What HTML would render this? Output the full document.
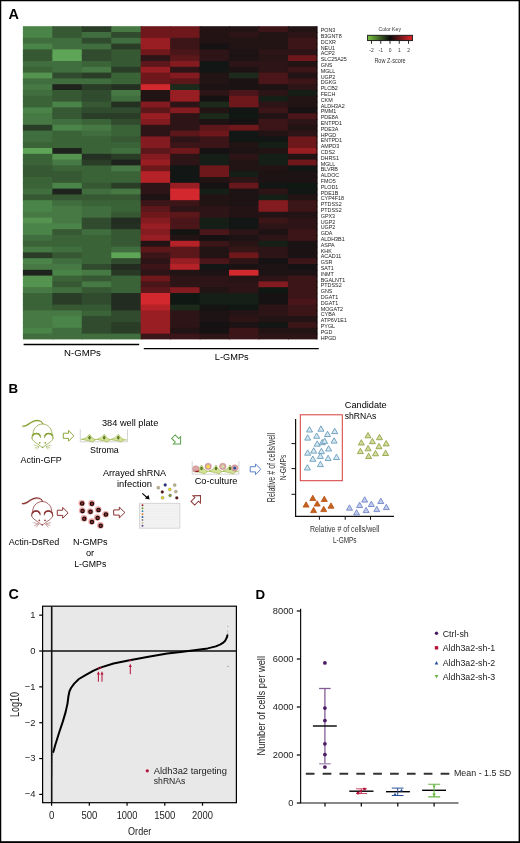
<!DOCTYPE html>
<html><head><meta charset="utf-8"><title>Figure</title>
<style>html,body{margin:0;padding:0;background:#fff;}body{width:520px;height:843px;overflow:hidden;font-family:"Liberation Sans",sans-serif;}svg{display:block;will-change:transform;}</style></head><body>
<svg width="520" height="843" viewBox="0 0 520 843" font-family="Liberation Sans, sans-serif">
<rect width="520" height="843" fill="#fff"/>
<text x="8.40" y="18.80" font-size="14.4" font-weight="bold" fill="#000">A</text>
<rect x="22.90" y="26.20" width="30.45" height="6.80" fill="#4b8448"/>
<rect x="22.90" y="32.00" width="30.45" height="6.80" fill="#4b8448"/>
<rect x="22.90" y="37.80" width="30.45" height="6.80" fill="#406e3e"/>
<rect x="22.90" y="43.60" width="30.45" height="6.80" fill="#4b8448"/>
<rect x="22.90" y="49.40" width="30.45" height="6.80" fill="#365833"/>
<rect x="22.90" y="55.20" width="30.45" height="6.80" fill="#365833"/>
<rect x="22.90" y="61.00" width="30.45" height="6.80" fill="#406e3e"/>
<rect x="22.90" y="66.80" width="30.45" height="6.80" fill="#3b6338"/>
<rect x="22.90" y="72.60" width="30.45" height="6.80" fill="#559450"/>
<rect x="22.90" y="78.40" width="30.45" height="6.80" fill="#406e3e"/>
<rect x="22.90" y="84.20" width="30.45" height="6.80" fill="#467943"/>
<rect x="22.90" y="90.00" width="30.45" height="6.80" fill="#406e3e"/>
<rect x="22.90" y="95.80" width="30.45" height="6.80" fill="#3b6338"/>
<rect x="22.90" y="101.60" width="30.45" height="6.80" fill="#3b6338"/>
<rect x="22.90" y="107.40" width="30.45" height="6.80" fill="#4b8448"/>
<rect x="22.90" y="113.20" width="30.45" height="6.80" fill="#467943"/>
<rect x="22.90" y="119.00" width="30.45" height="6.80" fill="#467943"/>
<rect x="22.90" y="124.80" width="30.45" height="6.80" fill="#2a3e27"/>
<rect x="22.90" y="130.60" width="30.45" height="6.80" fill="#406e3e"/>
<rect x="22.90" y="136.40" width="30.45" height="6.80" fill="#406e3e"/>
<rect x="22.90" y="142.20" width="30.45" height="6.80" fill="#3b6338"/>
<rect x="22.90" y="148.00" width="30.45" height="6.80" fill="#5fa558"/>
<rect x="22.90" y="153.80" width="30.45" height="6.80" fill="#3b6338"/>
<rect x="22.90" y="159.60" width="30.45" height="6.80" fill="#3b6338"/>
<rect x="22.90" y="165.40" width="30.45" height="6.80" fill="#365833"/>
<rect x="22.90" y="171.20" width="30.45" height="6.80" fill="#365833"/>
<rect x="22.90" y="177.00" width="30.45" height="6.80" fill="#3b6338"/>
<rect x="22.90" y="182.80" width="30.45" height="6.80" fill="#3b6338"/>
<rect x="22.90" y="188.60" width="30.45" height="6.80" fill="#406e3e"/>
<rect x="22.90" y="194.40" width="30.45" height="6.80" fill="#365833"/>
<rect x="22.90" y="200.20" width="30.45" height="6.80" fill="#4b8448"/>
<rect x="22.90" y="206.00" width="30.45" height="6.80" fill="#4b8448"/>
<rect x="22.90" y="211.80" width="30.45" height="6.80" fill="#467943"/>
<rect x="22.90" y="217.60" width="30.45" height="6.80" fill="#559450"/>
<rect x="22.90" y="223.40" width="30.45" height="6.80" fill="#4b8448"/>
<rect x="22.90" y="229.20" width="30.45" height="6.80" fill="#4b8448"/>
<rect x="22.90" y="235.00" width="30.45" height="6.80" fill="#406e3e"/>
<rect x="22.90" y="240.80" width="30.45" height="6.80" fill="#3b6338"/>
<rect x="22.90" y="246.60" width="30.45" height="6.80" fill="#467943"/>
<rect x="22.90" y="252.40" width="30.45" height="6.80" fill="#2a3e27"/>
<rect x="22.90" y="258.20" width="30.45" height="6.80" fill="#4b8448"/>
<rect x="22.90" y="264.00" width="30.45" height="6.80" fill="#467943"/>
<rect x="22.90" y="269.80" width="30.45" height="6.80" fill="#1e241d"/>
<rect x="22.90" y="275.60" width="30.45" height="6.80" fill="#559450"/>
<rect x="22.90" y="281.40" width="30.45" height="6.80" fill="#559450"/>
<rect x="22.90" y="287.20" width="30.45" height="6.80" fill="#467943"/>
<rect x="22.90" y="293.00" width="30.45" height="6.80" fill="#3b6338"/>
<rect x="22.90" y="298.80" width="30.45" height="6.80" fill="#3b6338"/>
<rect x="22.90" y="304.60" width="30.45" height="6.80" fill="#3b6338"/>
<rect x="22.90" y="310.40" width="30.45" height="6.80" fill="#467943"/>
<rect x="22.90" y="316.20" width="30.45" height="6.80" fill="#467943"/>
<rect x="22.90" y="322.00" width="30.45" height="6.80" fill="#467943"/>
<rect x="22.90" y="327.80" width="30.45" height="6.80" fill="#4b8448"/>
<rect x="22.90" y="333.60" width="30.45" height="5.80" fill="#406e3e"/>
<rect x="52.35" y="26.20" width="30.45" height="6.80" fill="#365833"/>
<rect x="52.35" y="32.00" width="30.45" height="6.80" fill="#365833"/>
<rect x="52.35" y="37.80" width="30.45" height="6.80" fill="#406e3e"/>
<rect x="52.35" y="43.60" width="30.45" height="6.80" fill="#406e3e"/>
<rect x="52.35" y="49.40" width="30.45" height="6.80" fill="#5fa558"/>
<rect x="52.35" y="55.20" width="30.45" height="6.80" fill="#5fa558"/>
<rect x="52.35" y="61.00" width="30.45" height="6.80" fill="#406e3e"/>
<rect x="52.35" y="66.80" width="30.45" height="6.80" fill="#406e3e"/>
<rect x="52.35" y="72.60" width="30.45" height="6.80" fill="#304b2d"/>
<rect x="52.35" y="78.40" width="30.45" height="6.80" fill="#406e3e"/>
<rect x="52.35" y="84.20" width="30.45" height="6.80" fill="#1e241d"/>
<rect x="52.35" y="90.00" width="30.45" height="6.80" fill="#365833"/>
<rect x="52.35" y="95.80" width="30.45" height="6.80" fill="#365833"/>
<rect x="52.35" y="101.60" width="30.45" height="6.80" fill="#4b8448"/>
<rect x="52.35" y="107.40" width="30.45" height="6.80" fill="#365833"/>
<rect x="52.35" y="113.20" width="30.45" height="6.80" fill="#365833"/>
<rect x="52.35" y="119.00" width="30.45" height="6.80" fill="#406e3e"/>
<rect x="52.35" y="124.80" width="30.45" height="6.80" fill="#4b8448"/>
<rect x="52.35" y="130.60" width="30.45" height="6.80" fill="#3b6338"/>
<rect x="52.35" y="136.40" width="30.45" height="6.80" fill="#3b6338"/>
<rect x="52.35" y="142.20" width="30.45" height="6.80" fill="#3b6338"/>
<rect x="52.35" y="148.00" width="30.45" height="6.80" fill="#1e241d"/>
<rect x="52.35" y="153.80" width="30.45" height="6.80" fill="#559450"/>
<rect x="52.35" y="159.60" width="30.45" height="6.80" fill="#467943"/>
<rect x="52.35" y="165.40" width="30.45" height="6.80" fill="#3b6338"/>
<rect x="52.35" y="171.20" width="30.45" height="6.80" fill="#365833"/>
<rect x="52.35" y="177.00" width="30.45" height="6.80" fill="#365833"/>
<rect x="52.35" y="182.80" width="30.45" height="6.80" fill="#4b8448"/>
<rect x="52.35" y="188.60" width="30.45" height="6.80" fill="#1e241d"/>
<rect x="52.35" y="194.40" width="30.45" height="6.80" fill="#365833"/>
<rect x="52.35" y="200.20" width="30.45" height="6.80" fill="#406e3e"/>
<rect x="52.35" y="206.00" width="30.45" height="6.80" fill="#467943"/>
<rect x="52.35" y="211.80" width="30.45" height="6.80" fill="#467943"/>
<rect x="52.35" y="217.60" width="30.45" height="6.80" fill="#467943"/>
<rect x="52.35" y="223.40" width="30.45" height="6.80" fill="#4b8448"/>
<rect x="52.35" y="229.20" width="30.45" height="6.80" fill="#365833"/>
<rect x="52.35" y="235.00" width="30.45" height="6.80" fill="#3b6338"/>
<rect x="52.35" y="240.80" width="30.45" height="6.80" fill="#3b6338"/>
<rect x="52.35" y="246.60" width="30.45" height="6.80" fill="#406e3e"/>
<rect x="52.35" y="252.40" width="30.45" height="6.80" fill="#365833"/>
<rect x="52.35" y="258.20" width="30.45" height="6.80" fill="#406e3e"/>
<rect x="52.35" y="264.00" width="30.45" height="6.80" fill="#467943"/>
<rect x="52.35" y="269.80" width="30.45" height="6.80" fill="#4b8448"/>
<rect x="52.35" y="275.60" width="30.45" height="6.80" fill="#3b6338"/>
<rect x="52.35" y="281.40" width="30.45" height="6.80" fill="#365833"/>
<rect x="52.35" y="287.20" width="30.45" height="6.80" fill="#406e3e"/>
<rect x="52.35" y="293.00" width="30.45" height="6.80" fill="#2a3e27"/>
<rect x="52.35" y="298.80" width="30.45" height="6.80" fill="#2a3e27"/>
<rect x="52.35" y="304.60" width="30.45" height="6.80" fill="#365833"/>
<rect x="52.35" y="310.40" width="30.45" height="6.80" fill="#467943"/>
<rect x="52.35" y="316.20" width="30.45" height="6.80" fill="#4b8448"/>
<rect x="52.35" y="322.00" width="30.45" height="6.80" fill="#4b8448"/>
<rect x="52.35" y="327.80" width="30.45" height="6.80" fill="#406e3e"/>
<rect x="52.35" y="333.60" width="30.45" height="5.80" fill="#406e3e"/>
<rect x="81.80" y="26.20" width="30.45" height="6.80" fill="#2a3e27"/>
<rect x="81.80" y="32.00" width="30.45" height="6.80" fill="#406e3e"/>
<rect x="81.80" y="37.80" width="30.45" height="6.80" fill="#304b2d"/>
<rect x="81.80" y="43.60" width="30.45" height="6.80" fill="#406e3e"/>
<rect x="81.80" y="49.40" width="30.45" height="6.80" fill="#304b2d"/>
<rect x="81.80" y="55.20" width="30.45" height="6.80" fill="#304b2d"/>
<rect x="81.80" y="61.00" width="30.45" height="6.80" fill="#3b6338"/>
<rect x="81.80" y="66.80" width="30.45" height="6.80" fill="#467943"/>
<rect x="81.80" y="72.60" width="30.45" height="6.80" fill="#2a3e27"/>
<rect x="81.80" y="78.40" width="30.45" height="6.80" fill="#406e3e"/>
<rect x="81.80" y="84.20" width="30.45" height="6.80" fill="#2a3e27"/>
<rect x="81.80" y="90.00" width="30.45" height="6.80" fill="#304b2d"/>
<rect x="81.80" y="95.80" width="30.45" height="6.80" fill="#304b2d"/>
<rect x="81.80" y="101.60" width="30.45" height="6.80" fill="#365833"/>
<rect x="81.80" y="107.40" width="30.45" height="6.80" fill="#304b2d"/>
<rect x="81.80" y="113.20" width="30.45" height="6.80" fill="#2a3e27"/>
<rect x="81.80" y="119.00" width="30.45" height="6.80" fill="#3b6338"/>
<rect x="81.80" y="124.80" width="30.45" height="6.80" fill="#467943"/>
<rect x="81.80" y="130.60" width="30.45" height="6.80" fill="#406e3e"/>
<rect x="81.80" y="136.40" width="30.45" height="6.80" fill="#3b6338"/>
<rect x="81.80" y="142.20" width="30.45" height="6.80" fill="#3b6338"/>
<rect x="81.80" y="148.00" width="30.45" height="6.80" fill="#3b6338"/>
<rect x="81.80" y="153.80" width="30.45" height="6.80" fill="#243122"/>
<rect x="81.80" y="159.60" width="30.45" height="6.80" fill="#2a3e27"/>
<rect x="81.80" y="165.40" width="30.45" height="6.80" fill="#3b6338"/>
<rect x="81.80" y="171.20" width="30.45" height="6.80" fill="#3b6338"/>
<rect x="81.80" y="177.00" width="30.45" height="6.80" fill="#3b6338"/>
<rect x="81.80" y="182.80" width="30.45" height="6.80" fill="#365833"/>
<rect x="81.80" y="188.60" width="30.45" height="6.80" fill="#406e3e"/>
<rect x="81.80" y="194.40" width="30.45" height="6.80" fill="#365833"/>
<rect x="81.80" y="200.20" width="30.45" height="6.80" fill="#3b6338"/>
<rect x="81.80" y="206.00" width="30.45" height="6.80" fill="#406e3e"/>
<rect x="81.80" y="211.80" width="30.45" height="6.80" fill="#406e3e"/>
<rect x="81.80" y="217.60" width="30.45" height="6.80" fill="#304b2d"/>
<rect x="81.80" y="223.40" width="30.45" height="6.80" fill="#304b2d"/>
<rect x="81.80" y="229.20" width="30.45" height="6.80" fill="#406e3e"/>
<rect x="81.80" y="235.00" width="30.45" height="6.80" fill="#3b6338"/>
<rect x="81.80" y="240.80" width="30.45" height="6.80" fill="#3b6338"/>
<rect x="81.80" y="246.60" width="30.45" height="6.80" fill="#3b6338"/>
<rect x="81.80" y="252.40" width="30.45" height="6.80" fill="#3b6338"/>
<rect x="81.80" y="258.20" width="30.45" height="6.80" fill="#3b6338"/>
<rect x="81.80" y="264.00" width="30.45" height="6.80" fill="#304b2d"/>
<rect x="81.80" y="269.80" width="30.45" height="6.80" fill="#467943"/>
<rect x="81.80" y="275.60" width="30.45" height="6.80" fill="#365833"/>
<rect x="81.80" y="281.40" width="30.45" height="6.80" fill="#467943"/>
<rect x="81.80" y="287.20" width="30.45" height="6.80" fill="#365833"/>
<rect x="81.80" y="293.00" width="30.45" height="6.80" fill="#304b2d"/>
<rect x="81.80" y="298.80" width="30.45" height="6.80" fill="#304b2d"/>
<rect x="81.80" y="304.60" width="30.45" height="6.80" fill="#365833"/>
<rect x="81.80" y="310.40" width="30.45" height="6.80" fill="#3b6338"/>
<rect x="81.80" y="316.20" width="30.45" height="6.80" fill="#304b2d"/>
<rect x="81.80" y="322.00" width="30.45" height="6.80" fill="#304b2d"/>
<rect x="81.80" y="327.80" width="30.45" height="6.80" fill="#304b2d"/>
<rect x="81.80" y="333.60" width="30.45" height="5.80" fill="#406e3e"/>
<rect x="111.25" y="26.20" width="30.45" height="6.80" fill="#467943"/>
<rect x="111.25" y="32.00" width="30.45" height="6.80" fill="#304b2d"/>
<rect x="111.25" y="37.80" width="30.45" height="6.80" fill="#406e3e"/>
<rect x="111.25" y="43.60" width="30.45" height="6.80" fill="#2a3e27"/>
<rect x="111.25" y="49.40" width="30.45" height="6.80" fill="#365833"/>
<rect x="111.25" y="55.20" width="30.45" height="6.80" fill="#365833"/>
<rect x="111.25" y="61.00" width="30.45" height="6.80" fill="#365833"/>
<rect x="111.25" y="66.80" width="30.45" height="6.80" fill="#2a3e27"/>
<rect x="111.25" y="72.60" width="30.45" height="6.80" fill="#3b6338"/>
<rect x="111.25" y="78.40" width="30.45" height="6.80" fill="#3b6338"/>
<rect x="111.25" y="84.20" width="30.45" height="6.80" fill="#243122"/>
<rect x="111.25" y="90.00" width="30.45" height="6.80" fill="#467943"/>
<rect x="111.25" y="95.80" width="30.45" height="6.80" fill="#406e3e"/>
<rect x="111.25" y="101.60" width="30.45" height="6.80" fill="#243122"/>
<rect x="111.25" y="107.40" width="30.45" height="6.80" fill="#304b2d"/>
<rect x="111.25" y="113.20" width="30.45" height="6.80" fill="#2a3e27"/>
<rect x="111.25" y="119.00" width="30.45" height="6.80" fill="#304b2d"/>
<rect x="111.25" y="124.80" width="30.45" height="6.80" fill="#3b6338"/>
<rect x="111.25" y="130.60" width="30.45" height="6.80" fill="#3b6338"/>
<rect x="111.25" y="136.40" width="30.45" height="6.80" fill="#365833"/>
<rect x="111.25" y="142.20" width="30.45" height="6.80" fill="#3b6338"/>
<rect x="111.25" y="148.00" width="30.45" height="6.80" fill="#406e3e"/>
<rect x="111.25" y="153.80" width="30.45" height="6.80" fill="#2a3e27"/>
<rect x="111.25" y="159.60" width="30.45" height="6.80" fill="#1e241d"/>
<rect x="111.25" y="165.40" width="30.45" height="6.80" fill="#467943"/>
<rect x="111.25" y="171.20" width="30.45" height="6.80" fill="#3b6338"/>
<rect x="111.25" y="177.00" width="30.45" height="6.80" fill="#3b6338"/>
<rect x="111.25" y="182.80" width="30.45" height="6.80" fill="#2a3e27"/>
<rect x="111.25" y="188.60" width="30.45" height="6.80" fill="#467943"/>
<rect x="111.25" y="194.40" width="30.45" height="6.80" fill="#365833"/>
<rect x="111.25" y="200.20" width="30.45" height="6.80" fill="#3b6338"/>
<rect x="111.25" y="206.00" width="30.45" height="6.80" fill="#3b6338"/>
<rect x="111.25" y="211.80" width="30.45" height="6.80" fill="#365833"/>
<rect x="111.25" y="217.60" width="30.45" height="6.80" fill="#222c20"/>
<rect x="111.25" y="223.40" width="30.45" height="6.80" fill="#243122"/>
<rect x="111.25" y="229.20" width="30.45" height="6.80" fill="#365833"/>
<rect x="111.25" y="235.00" width="30.45" height="6.80" fill="#365833"/>
<rect x="111.25" y="240.80" width="30.45" height="6.80" fill="#365833"/>
<rect x="111.25" y="246.60" width="30.45" height="6.80" fill="#406e3e"/>
<rect x="111.25" y="252.40" width="30.45" height="6.80" fill="#5fa558"/>
<rect x="111.25" y="258.20" width="30.45" height="6.80" fill="#304b2d"/>
<rect x="111.25" y="264.00" width="30.45" height="6.80" fill="#222c20"/>
<rect x="111.25" y="269.80" width="30.45" height="6.80" fill="#283925"/>
<rect x="111.25" y="275.60" width="30.45" height="6.80" fill="#3b6338"/>
<rect x="111.25" y="281.40" width="30.45" height="6.80" fill="#3b6338"/>
<rect x="111.25" y="287.20" width="30.45" height="6.80" fill="#3b6338"/>
<rect x="111.25" y="293.00" width="30.45" height="6.80" fill="#222c20"/>
<rect x="111.25" y="298.80" width="30.45" height="6.80" fill="#222c20"/>
<rect x="111.25" y="304.60" width="30.45" height="6.80" fill="#222c20"/>
<rect x="111.25" y="310.40" width="30.45" height="6.80" fill="#304b2d"/>
<rect x="111.25" y="316.20" width="30.45" height="6.80" fill="#304b2d"/>
<rect x="111.25" y="322.00" width="30.45" height="6.80" fill="#2a3e27"/>
<rect x="111.25" y="327.80" width="30.45" height="6.80" fill="#2a3e27"/>
<rect x="111.25" y="333.60" width="30.45" height="5.80" fill="#406e3e"/>
<rect x="140.70" y="26.20" width="30.45" height="6.80" fill="#6e181c"/>
<rect x="140.70" y="32.00" width="30.45" height="6.80" fill="#6e181c"/>
<rect x="140.70" y="37.80" width="30.45" height="6.80" fill="#981e23"/>
<rect x="140.70" y="43.60" width="30.45" height="6.80" fill="#981e23"/>
<rect x="140.70" y="49.40" width="30.45" height="6.80" fill="#6e181c"/>
<rect x="140.70" y="55.20" width="30.45" height="6.80" fill="#2d1416"/>
<rect x="140.70" y="61.00" width="30.45" height="6.80" fill="#5c171a"/>
<rect x="140.70" y="66.80" width="30.45" height="6.80" fill="#981e23"/>
<rect x="140.70" y="72.60" width="30.45" height="6.80" fill="#6e181c"/>
<rect x="140.70" y="78.40" width="30.45" height="6.80" fill="#6e181c"/>
<rect x="140.70" y="84.20" width="30.45" height="6.80" fill="#d2282e"/>
<rect x="140.70" y="90.00" width="30.45" height="6.80" fill="#221314"/>
<rect x="140.70" y="95.80" width="30.45" height="6.80" fill="#221314"/>
<rect x="140.70" y="101.60" width="30.45" height="6.80" fill="#831b20"/>
<rect x="140.70" y="107.40" width="30.45" height="6.80" fill="#5c171a"/>
<rect x="140.70" y="113.20" width="30.45" height="6.80" fill="#981e23"/>
<rect x="140.70" y="119.00" width="30.45" height="6.80" fill="#831b20"/>
<rect x="140.70" y="124.80" width="30.45" height="6.80" fill="#2d1416"/>
<rect x="140.70" y="130.60" width="30.45" height="6.80" fill="#2d1416"/>
<rect x="140.70" y="136.40" width="30.45" height="6.80" fill="#831b20"/>
<rect x="140.70" y="142.20" width="30.45" height="6.80" fill="#831b20"/>
<rect x="140.70" y="148.00" width="30.45" height="6.80" fill="#5c171a"/>
<rect x="140.70" y="153.80" width="30.45" height="6.80" fill="#831b20"/>
<rect x="140.70" y="159.60" width="30.45" height="6.80" fill="#981e23"/>
<rect x="140.70" y="165.40" width="30.45" height="6.80" fill="#6e181c"/>
<rect x="140.70" y="171.20" width="30.45" height="6.80" fill="#b52328"/>
<rect x="140.70" y="177.00" width="30.45" height="6.80" fill="#b52328"/>
<rect x="140.70" y="182.80" width="30.45" height="6.80" fill="#2d1416"/>
<rect x="140.70" y="188.60" width="30.45" height="6.80" fill="#2d1416"/>
<rect x="140.70" y="194.40" width="30.45" height="6.80" fill="#1d1314"/>
<rect x="140.70" y="200.20" width="30.45" height="6.80" fill="#3c1518"/>
<rect x="140.70" y="206.00" width="30.45" height="6.80" fill="#5c171a"/>
<rect x="140.70" y="211.80" width="30.45" height="6.80" fill="#6e181c"/>
<rect x="140.70" y="217.60" width="30.45" height="6.80" fill="#831b20"/>
<rect x="140.70" y="223.40" width="30.45" height="6.80" fill="#981e23"/>
<rect x="140.70" y="229.20" width="30.45" height="6.80" fill="#831b20"/>
<rect x="140.70" y="235.00" width="30.45" height="6.80" fill="#981e23"/>
<rect x="140.70" y="240.80" width="30.45" height="6.80" fill="#221314"/>
<rect x="140.70" y="246.60" width="30.45" height="6.80" fill="#5c171a"/>
<rect x="140.70" y="252.40" width="30.45" height="6.80" fill="#3c1518"/>
<rect x="140.70" y="258.20" width="30.45" height="6.80" fill="#2d1416"/>
<rect x="140.70" y="264.00" width="30.45" height="6.80" fill="#3c1518"/>
<rect x="140.70" y="269.80" width="30.45" height="6.80" fill="#2d1416"/>
<rect x="140.70" y="275.60" width="30.45" height="6.80" fill="#6e181c"/>
<rect x="140.70" y="281.40" width="30.45" height="6.80" fill="#4b1619"/>
<rect x="140.70" y="287.20" width="30.45" height="6.80" fill="#5c171a"/>
<rect x="140.70" y="293.00" width="30.45" height="6.80" fill="#d2282e"/>
<rect x="140.70" y="298.80" width="30.45" height="6.80" fill="#d2282e"/>
<rect x="140.70" y="304.60" width="30.45" height="6.80" fill="#b52328"/>
<rect x="140.70" y="310.40" width="30.45" height="6.80" fill="#981e23"/>
<rect x="140.70" y="316.20" width="30.45" height="6.80" fill="#981e23"/>
<rect x="140.70" y="322.00" width="30.45" height="6.80" fill="#981e23"/>
<rect x="140.70" y="327.80" width="30.45" height="6.80" fill="#981e23"/>
<rect x="140.70" y="333.60" width="30.45" height="5.80" fill="#3c1518"/>
<rect x="170.15" y="26.20" width="30.45" height="6.80" fill="#6e181c"/>
<rect x="170.15" y="32.00" width="30.45" height="6.80" fill="#6e181c"/>
<rect x="170.15" y="37.80" width="30.45" height="6.80" fill="#3c1518"/>
<rect x="170.15" y="43.60" width="30.45" height="6.80" fill="#3c1518"/>
<rect x="170.15" y="49.40" width="30.45" height="6.80" fill="#4b1619"/>
<rect x="170.15" y="55.20" width="30.45" height="6.80" fill="#5c171a"/>
<rect x="170.15" y="61.00" width="30.45" height="6.80" fill="#831b20"/>
<rect x="170.15" y="66.80" width="30.45" height="6.80" fill="#2d1416"/>
<rect x="170.15" y="72.60" width="30.45" height="6.80" fill="#831b20"/>
<rect x="170.15" y="78.40" width="30.45" height="6.80" fill="#5c171a"/>
<rect x="170.15" y="84.20" width="30.45" height="6.80" fill="#1c2a1c"/>
<rect x="170.15" y="90.00" width="30.45" height="6.80" fill="#981e23"/>
<rect x="170.15" y="95.80" width="30.45" height="6.80" fill="#981e23"/>
<rect x="170.15" y="101.60" width="30.45" height="6.80" fill="#2d1416"/>
<rect x="170.15" y="107.40" width="30.45" height="6.80" fill="#831b20"/>
<rect x="170.15" y="113.20" width="30.45" height="6.80" fill="#2d1416"/>
<rect x="170.15" y="119.00" width="30.45" height="6.80" fill="#2d1416"/>
<rect x="170.15" y="124.80" width="30.45" height="6.80" fill="#2d1416"/>
<rect x="170.15" y="130.60" width="30.45" height="6.80" fill="#5c171a"/>
<rect x="170.15" y="136.40" width="30.45" height="6.80" fill="#2d1416"/>
<rect x="170.15" y="142.20" width="30.45" height="6.80" fill="#3c1518"/>
<rect x="170.15" y="148.00" width="30.45" height="6.80" fill="#6e181c"/>
<rect x="170.15" y="153.80" width="30.45" height="6.80" fill="#2d1416"/>
<rect x="170.15" y="159.60" width="30.45" height="6.80" fill="#2d1416"/>
<rect x="170.15" y="165.40" width="30.45" height="6.80" fill="#121614"/>
<rect x="170.15" y="171.20" width="30.45" height="6.80" fill="#121614"/>
<rect x="170.15" y="177.00" width="30.45" height="6.80" fill="#121614"/>
<rect x="170.15" y="182.80" width="30.45" height="6.80" fill="#981e23"/>
<rect x="170.15" y="188.60" width="30.45" height="6.80" fill="#d2282e"/>
<rect x="170.15" y="194.40" width="30.45" height="6.80" fill="#d2282e"/>
<rect x="170.15" y="200.20" width="30.45" height="6.80" fill="#3c1518"/>
<rect x="170.15" y="206.00" width="30.45" height="6.80" fill="#2d1416"/>
<rect x="170.15" y="211.80" width="30.45" height="6.80" fill="#5c171a"/>
<rect x="170.15" y="217.60" width="30.45" height="6.80" fill="#4b1619"/>
<rect x="170.15" y="223.40" width="30.45" height="6.80" fill="#4b1619"/>
<rect x="170.15" y="229.20" width="30.45" height="6.80" fill="#141413"/>
<rect x="170.15" y="235.00" width="30.45" height="6.80" fill="#221314"/>
<rect x="170.15" y="240.80" width="30.45" height="6.80" fill="#b52328"/>
<rect x="170.15" y="246.60" width="30.45" height="6.80" fill="#5c171a"/>
<rect x="170.15" y="252.40" width="30.45" height="6.80" fill="#5c171a"/>
<rect x="170.15" y="258.20" width="30.45" height="6.80" fill="#981e23"/>
<rect x="170.15" y="264.00" width="30.45" height="6.80" fill="#b52328"/>
<rect x="170.15" y="269.80" width="30.45" height="6.80" fill="#221314"/>
<rect x="170.15" y="275.60" width="30.45" height="6.80" fill="#2d1416"/>
<rect x="170.15" y="281.40" width="30.45" height="6.80" fill="#2d1416"/>
<rect x="170.15" y="287.20" width="30.45" height="6.80" fill="#831b20"/>
<rect x="170.15" y="293.00" width="30.45" height="6.80" fill="#101814"/>
<rect x="170.15" y="298.80" width="30.45" height="6.80" fill="#101814"/>
<rect x="170.15" y="304.60" width="30.45" height="6.80" fill="#1c2a1c"/>
<rect x="170.15" y="310.40" width="30.45" height="6.80" fill="#2d1416"/>
<rect x="170.15" y="316.20" width="30.45" height="6.80" fill="#2d1416"/>
<rect x="170.15" y="322.00" width="30.45" height="6.80" fill="#2d1416"/>
<rect x="170.15" y="327.80" width="30.45" height="6.80" fill="#221314"/>
<rect x="170.15" y="333.60" width="30.45" height="5.80" fill="#3c1518"/>
<rect x="199.60" y="26.20" width="30.45" height="6.80" fill="#241315"/>
<rect x="199.60" y="32.00" width="30.45" height="6.80" fill="#241315"/>
<rect x="199.60" y="37.80" width="30.45" height="6.80" fill="#241315"/>
<rect x="199.60" y="43.60" width="30.45" height="6.80" fill="#161213"/>
<rect x="199.60" y="49.40" width="30.45" height="6.80" fill="#2d1416"/>
<rect x="199.60" y="55.20" width="30.45" height="6.80" fill="#2d1416"/>
<rect x="199.60" y="61.00" width="30.45" height="6.80" fill="#121614"/>
<rect x="199.60" y="66.80" width="30.45" height="6.80" fill="#121614"/>
<rect x="199.60" y="72.60" width="30.45" height="6.80" fill="#221314"/>
<rect x="199.60" y="78.40" width="30.45" height="6.80" fill="#221314"/>
<rect x="199.60" y="84.20" width="30.45" height="6.80" fill="#1d1314"/>
<rect x="199.60" y="90.00" width="30.45" height="6.80" fill="#2d1416"/>
<rect x="199.60" y="95.80" width="30.45" height="6.80" fill="#161213"/>
<rect x="199.60" y="101.60" width="30.45" height="6.80" fill="#1c2a1c"/>
<rect x="199.60" y="107.40" width="30.45" height="6.80" fill="#221314"/>
<rect x="199.60" y="113.20" width="30.45" height="6.80" fill="#1c2a1c"/>
<rect x="199.60" y="119.00" width="30.45" height="6.80" fill="#1d1314"/>
<rect x="199.60" y="124.80" width="30.45" height="6.80" fill="#5c171a"/>
<rect x="199.60" y="130.60" width="30.45" height="6.80" fill="#6e181c"/>
<rect x="199.60" y="136.40" width="30.45" height="6.80" fill="#3c1518"/>
<rect x="199.60" y="142.20" width="30.45" height="6.80" fill="#3c1518"/>
<rect x="199.60" y="148.00" width="30.45" height="6.80" fill="#161213"/>
<rect x="199.60" y="153.80" width="30.45" height="6.80" fill="#151f17"/>
<rect x="199.60" y="159.60" width="30.45" height="6.80" fill="#151f17"/>
<rect x="199.60" y="165.40" width="30.45" height="6.80" fill="#6e181c"/>
<rect x="199.60" y="171.20" width="30.45" height="6.80" fill="#6e181c"/>
<rect x="199.60" y="177.00" width="30.45" height="6.80" fill="#221314"/>
<rect x="199.60" y="182.80" width="30.45" height="6.80" fill="#161213"/>
<rect x="199.60" y="188.60" width="30.45" height="6.80" fill="#151f17"/>
<rect x="199.60" y="194.40" width="30.45" height="6.80" fill="#221314"/>
<rect x="199.60" y="200.20" width="30.45" height="6.80" fill="#221314"/>
<rect x="199.60" y="206.00" width="30.45" height="6.80" fill="#2d1416"/>
<rect x="199.60" y="211.80" width="30.45" height="6.80" fill="#2d1416"/>
<rect x="199.60" y="217.60" width="30.45" height="6.80" fill="#151f17"/>
<rect x="199.60" y="223.40" width="30.45" height="6.80" fill="#151f17"/>
<rect x="199.60" y="229.20" width="30.45" height="6.80" fill="#4b1619"/>
<rect x="199.60" y="235.00" width="30.45" height="6.80" fill="#161213"/>
<rect x="199.60" y="240.80" width="30.45" height="6.80" fill="#3c1518"/>
<rect x="199.60" y="246.60" width="30.45" height="6.80" fill="#221314"/>
<rect x="199.60" y="252.40" width="30.45" height="6.80" fill="#221314"/>
<rect x="199.60" y="258.20" width="30.45" height="6.80" fill="#4b1619"/>
<rect x="199.60" y="264.00" width="30.45" height="6.80" fill="#121614"/>
<rect x="199.60" y="269.80" width="30.45" height="6.80" fill="#1d1314"/>
<rect x="199.60" y="275.60" width="30.45" height="6.80" fill="#2d1416"/>
<rect x="199.60" y="281.40" width="30.45" height="6.80" fill="#2d1416"/>
<rect x="199.60" y="287.20" width="30.45" height="6.80" fill="#221314"/>
<rect x="199.60" y="293.00" width="30.45" height="6.80" fill="#151f17"/>
<rect x="199.60" y="298.80" width="30.45" height="6.80" fill="#151f17"/>
<rect x="199.60" y="304.60" width="30.45" height="6.80" fill="#141413"/>
<rect x="199.60" y="310.40" width="30.45" height="6.80" fill="#1d1314"/>
<rect x="199.60" y="316.20" width="30.45" height="6.80" fill="#1d1314"/>
<rect x="199.60" y="322.00" width="30.45" height="6.80" fill="#161213"/>
<rect x="199.60" y="327.80" width="30.45" height="6.80" fill="#161213"/>
<rect x="199.60" y="333.60" width="30.45" height="5.80" fill="#2d1416"/>
<rect x="229.05" y="26.20" width="30.45" height="6.80" fill="#221314"/>
<rect x="229.05" y="32.00" width="30.45" height="6.80" fill="#2d1416"/>
<rect x="229.05" y="37.80" width="30.45" height="6.80" fill="#221314"/>
<rect x="229.05" y="43.60" width="30.45" height="6.80" fill="#221314"/>
<rect x="229.05" y="49.40" width="30.45" height="6.80" fill="#1d1314"/>
<rect x="229.05" y="55.20" width="30.45" height="6.80" fill="#1d1314"/>
<rect x="229.05" y="61.00" width="30.45" height="6.80" fill="#2d1416"/>
<rect x="229.05" y="66.80" width="30.45" height="6.80" fill="#1d1314"/>
<rect x="229.05" y="72.60" width="30.45" height="6.80" fill="#1c2a1c"/>
<rect x="229.05" y="78.40" width="30.45" height="6.80" fill="#1b1214"/>
<rect x="229.05" y="84.20" width="30.45" height="6.80" fill="#1b1214"/>
<rect x="229.05" y="90.00" width="30.45" height="6.80" fill="#4b1619"/>
<rect x="229.05" y="95.80" width="30.45" height="6.80" fill="#6e181c"/>
<rect x="229.05" y="101.60" width="30.45" height="6.80" fill="#6e181c"/>
<rect x="229.05" y="107.40" width="30.45" height="6.80" fill="#121614"/>
<rect x="229.05" y="113.20" width="30.45" height="6.80" fill="#101814"/>
<rect x="229.05" y="119.00" width="30.45" height="6.80" fill="#161213"/>
<rect x="229.05" y="124.80" width="30.45" height="6.80" fill="#6e181c"/>
<rect x="229.05" y="130.60" width="30.45" height="6.80" fill="#121614"/>
<rect x="229.05" y="136.40" width="30.45" height="6.80" fill="#121614"/>
<rect x="229.05" y="142.20" width="30.45" height="6.80" fill="#221314"/>
<rect x="229.05" y="148.00" width="30.45" height="6.80" fill="#1d1314"/>
<rect x="229.05" y="153.80" width="30.45" height="6.80" fill="#2d1416"/>
<rect x="229.05" y="159.60" width="30.45" height="6.80" fill="#221314"/>
<rect x="229.05" y="165.40" width="30.45" height="6.80" fill="#221314"/>
<rect x="229.05" y="171.20" width="30.45" height="6.80" fill="#151f17"/>
<rect x="229.05" y="177.00" width="30.45" height="6.80" fill="#2d1416"/>
<rect x="229.05" y="182.80" width="30.45" height="6.80" fill="#67181b"/>
<rect x="229.05" y="188.60" width="30.45" height="6.80" fill="#1d1314"/>
<rect x="229.05" y="194.40" width="30.45" height="6.80" fill="#1d1314"/>
<rect x="229.05" y="200.20" width="30.45" height="6.80" fill="#1d1314"/>
<rect x="229.05" y="206.00" width="30.45" height="6.80" fill="#241315"/>
<rect x="229.05" y="211.80" width="30.45" height="6.80" fill="#241315"/>
<rect x="229.05" y="217.60" width="30.45" height="6.80" fill="#121614"/>
<rect x="229.05" y="223.40" width="30.45" height="6.80" fill="#121614"/>
<rect x="229.05" y="229.20" width="30.45" height="6.80" fill="#2d1416"/>
<rect x="229.05" y="235.00" width="30.45" height="6.80" fill="#1d1314"/>
<rect x="229.05" y="240.80" width="30.45" height="6.80" fill="#281415"/>
<rect x="229.05" y="246.60" width="30.45" height="6.80" fill="#361517"/>
<rect x="229.05" y="252.40" width="30.45" height="6.80" fill="#6e181c"/>
<rect x="229.05" y="258.20" width="30.45" height="6.80" fill="#2d1416"/>
<rect x="229.05" y="264.00" width="30.45" height="6.80" fill="#1b1214"/>
<rect x="229.05" y="269.80" width="30.45" height="6.80" fill="#d2282e"/>
<rect x="229.05" y="275.60" width="30.45" height="6.80" fill="#261315"/>
<rect x="229.05" y="281.40" width="30.45" height="6.80" fill="#2d1416"/>
<rect x="229.05" y="287.20" width="30.45" height="6.80" fill="#2d1416"/>
<rect x="229.05" y="293.00" width="30.45" height="6.80" fill="#151f17"/>
<rect x="229.05" y="298.80" width="30.45" height="6.80" fill="#151f17"/>
<rect x="229.05" y="304.60" width="30.45" height="6.80" fill="#101814"/>
<rect x="229.05" y="310.40" width="30.45" height="6.80" fill="#261315"/>
<rect x="229.05" y="316.20" width="30.45" height="6.80" fill="#2d1416"/>
<rect x="229.05" y="322.00" width="30.45" height="6.80" fill="#1d1314"/>
<rect x="229.05" y="327.80" width="30.45" height="6.80" fill="#3c1518"/>
<rect x="229.05" y="333.60" width="30.45" height="5.80" fill="#3c1518"/>
<rect x="258.50" y="26.20" width="30.45" height="6.80" fill="#3c1518"/>
<rect x="258.50" y="32.00" width="30.45" height="6.80" fill="#221314"/>
<rect x="258.50" y="37.80" width="30.45" height="6.80" fill="#221314"/>
<rect x="258.50" y="43.60" width="30.45" height="6.80" fill="#221314"/>
<rect x="258.50" y="49.40" width="30.45" height="6.80" fill="#2d1416"/>
<rect x="258.50" y="55.20" width="30.45" height="6.80" fill="#281415"/>
<rect x="258.50" y="61.00" width="30.45" height="6.80" fill="#2d1416"/>
<rect x="258.50" y="66.80" width="30.45" height="6.80" fill="#2d1416"/>
<rect x="258.50" y="72.60" width="30.45" height="6.80" fill="#4b1619"/>
<rect x="258.50" y="78.40" width="30.45" height="6.80" fill="#4b1619"/>
<rect x="258.50" y="84.20" width="30.45" height="6.80" fill="#1d1314"/>
<rect x="258.50" y="90.00" width="30.45" height="6.80" fill="#2d1416"/>
<rect x="258.50" y="95.80" width="30.45" height="6.80" fill="#151f17"/>
<rect x="258.50" y="101.60" width="30.45" height="6.80" fill="#2d1416"/>
<rect x="258.50" y="107.40" width="30.45" height="6.80" fill="#3c1518"/>
<rect x="258.50" y="113.20" width="30.45" height="6.80" fill="#221314"/>
<rect x="258.50" y="119.00" width="30.45" height="6.80" fill="#3c1518"/>
<rect x="258.50" y="124.80" width="30.45" height="6.80" fill="#3c1518"/>
<rect x="258.50" y="130.60" width="30.45" height="6.80" fill="#221314"/>
<rect x="258.50" y="136.40" width="30.45" height="6.80" fill="#121614"/>
<rect x="258.50" y="142.20" width="30.45" height="6.80" fill="#151f17"/>
<rect x="258.50" y="148.00" width="30.45" height="6.80" fill="#221314"/>
<rect x="258.50" y="153.80" width="30.45" height="6.80" fill="#151f17"/>
<rect x="258.50" y="159.60" width="30.45" height="6.80" fill="#151f17"/>
<rect x="258.50" y="165.40" width="30.45" height="6.80" fill="#221314"/>
<rect x="258.50" y="171.20" width="30.45" height="6.80" fill="#1d1314"/>
<rect x="258.50" y="177.00" width="30.45" height="6.80" fill="#1d1314"/>
<rect x="258.50" y="182.80" width="30.45" height="6.80" fill="#121614"/>
<rect x="258.50" y="188.60" width="30.45" height="6.80" fill="#2d1416"/>
<rect x="258.50" y="194.40" width="30.45" height="6.80" fill="#151f17"/>
<rect x="258.50" y="200.20" width="30.45" height="6.80" fill="#831b20"/>
<rect x="258.50" y="206.00" width="30.45" height="6.80" fill="#831b20"/>
<rect x="258.50" y="211.80" width="30.45" height="6.80" fill="#221314"/>
<rect x="258.50" y="217.60" width="30.45" height="6.80" fill="#3c1518"/>
<rect x="258.50" y="223.40" width="30.45" height="6.80" fill="#2d1416"/>
<rect x="258.50" y="229.20" width="30.45" height="6.80" fill="#1d1314"/>
<rect x="258.50" y="235.00" width="30.45" height="6.80" fill="#2d1416"/>
<rect x="258.50" y="240.80" width="30.45" height="6.80" fill="#151f17"/>
<rect x="258.50" y="246.60" width="30.45" height="6.80" fill="#2d1416"/>
<rect x="258.50" y="252.40" width="30.45" height="6.80" fill="#2d1416"/>
<rect x="258.50" y="258.20" width="30.45" height="6.80" fill="#161213"/>
<rect x="258.50" y="264.00" width="30.45" height="6.80" fill="#1d1314"/>
<rect x="258.50" y="269.80" width="30.45" height="6.80" fill="#1d1314"/>
<rect x="258.50" y="275.60" width="30.45" height="6.80" fill="#2d1416"/>
<rect x="258.50" y="281.40" width="30.45" height="6.80" fill="#831b20"/>
<rect x="258.50" y="287.20" width="30.45" height="6.80" fill="#101814"/>
<rect x="258.50" y="293.00" width="30.45" height="6.80" fill="#161213"/>
<rect x="258.50" y="298.80" width="30.45" height="6.80" fill="#161213"/>
<rect x="258.50" y="304.60" width="30.45" height="6.80" fill="#2d1416"/>
<rect x="258.50" y="310.40" width="30.45" height="6.80" fill="#2d1416"/>
<rect x="258.50" y="316.20" width="30.45" height="6.80" fill="#221314"/>
<rect x="258.50" y="322.00" width="30.45" height="6.80" fill="#121614"/>
<rect x="258.50" y="327.80" width="30.45" height="6.80" fill="#221314"/>
<rect x="258.50" y="333.60" width="30.45" height="5.80" fill="#2d1416"/>
<rect x="287.95" y="26.20" width="29.45" height="6.80" fill="#221314"/>
<rect x="287.95" y="32.00" width="29.45" height="6.80" fill="#2d1416"/>
<rect x="287.95" y="37.80" width="29.45" height="6.80" fill="#3c1518"/>
<rect x="287.95" y="43.60" width="29.45" height="6.80" fill="#3c1518"/>
<rect x="287.95" y="49.40" width="29.45" height="6.80" fill="#2d1416"/>
<rect x="287.95" y="55.20" width="29.45" height="6.80" fill="#6e181c"/>
<rect x="287.95" y="61.00" width="29.45" height="6.80" fill="#221314"/>
<rect x="287.95" y="66.80" width="29.45" height="6.80" fill="#3c1518"/>
<rect x="287.95" y="72.60" width="29.45" height="6.80" fill="#221314"/>
<rect x="287.95" y="78.40" width="29.45" height="6.80" fill="#3c1518"/>
<rect x="287.95" y="84.20" width="29.45" height="6.80" fill="#2d1416"/>
<rect x="287.95" y="90.00" width="29.45" height="6.80" fill="#151f17"/>
<rect x="287.95" y="95.80" width="29.45" height="6.80" fill="#221314"/>
<rect x="287.95" y="101.60" width="29.45" height="6.80" fill="#221314"/>
<rect x="287.95" y="107.40" width="29.45" height="6.80" fill="#161213"/>
<rect x="287.95" y="113.20" width="29.45" height="6.80" fill="#4b1619"/>
<rect x="287.95" y="119.00" width="29.45" height="6.80" fill="#2d1416"/>
<rect x="287.95" y="124.80" width="29.45" height="6.80" fill="#221314"/>
<rect x="287.95" y="130.60" width="29.45" height="6.80" fill="#2d1416"/>
<rect x="287.95" y="136.40" width="29.45" height="6.80" fill="#6e181c"/>
<rect x="287.95" y="142.20" width="29.45" height="6.80" fill="#6e181c"/>
<rect x="287.95" y="148.00" width="29.45" height="6.80" fill="#981e23"/>
<rect x="287.95" y="153.80" width="29.45" height="6.80" fill="#221314"/>
<rect x="287.95" y="159.60" width="29.45" height="6.80" fill="#6e181c"/>
<rect x="287.95" y="165.40" width="29.45" height="6.80" fill="#121614"/>
<rect x="287.95" y="171.20" width="29.45" height="6.80" fill="#1d1314"/>
<rect x="287.95" y="177.00" width="29.45" height="6.80" fill="#1d1314"/>
<rect x="287.95" y="182.80" width="29.45" height="6.80" fill="#101814"/>
<rect x="287.95" y="188.60" width="29.45" height="6.80" fill="#121614"/>
<rect x="287.95" y="194.40" width="29.45" height="6.80" fill="#221314"/>
<rect x="287.95" y="200.20" width="29.45" height="6.80" fill="#3c1518"/>
<rect x="287.95" y="206.00" width="29.45" height="6.80" fill="#3c1518"/>
<rect x="287.95" y="211.80" width="29.45" height="6.80" fill="#221314"/>
<rect x="287.95" y="217.60" width="29.45" height="6.80" fill="#2d1416"/>
<rect x="287.95" y="223.40" width="29.45" height="6.80" fill="#2d1416"/>
<rect x="287.95" y="229.20" width="29.45" height="6.80" fill="#3c1518"/>
<rect x="287.95" y="235.00" width="29.45" height="6.80" fill="#3c1518"/>
<rect x="287.95" y="240.80" width="29.45" height="6.80" fill="#1b1214"/>
<rect x="287.95" y="246.60" width="29.45" height="6.80" fill="#1b1214"/>
<rect x="287.95" y="252.40" width="29.45" height="6.80" fill="#1b1214"/>
<rect x="287.95" y="258.20" width="29.45" height="6.80" fill="#3c1518"/>
<rect x="287.95" y="264.00" width="29.45" height="6.80" fill="#161213"/>
<rect x="287.95" y="269.80" width="29.45" height="6.80" fill="#1d1314"/>
<rect x="287.95" y="275.60" width="29.45" height="6.80" fill="#3c1518"/>
<rect x="287.95" y="281.40" width="29.45" height="6.80" fill="#3c1518"/>
<rect x="287.95" y="287.20" width="29.45" height="6.80" fill="#3c1518"/>
<rect x="287.95" y="293.00" width="29.45" height="6.80" fill="#3c1518"/>
<rect x="287.95" y="298.80" width="29.45" height="6.80" fill="#4b1619"/>
<rect x="287.95" y="304.60" width="29.45" height="6.80" fill="#3c1518"/>
<rect x="287.95" y="310.40" width="29.45" height="6.80" fill="#3c1518"/>
<rect x="287.95" y="316.20" width="29.45" height="6.80" fill="#221314"/>
<rect x="287.95" y="322.00" width="29.45" height="6.80" fill="#3c1518"/>
<rect x="287.95" y="327.80" width="29.45" height="6.80" fill="#221314"/>
<rect x="287.95" y="333.60" width="29.45" height="5.80" fill="#2d1416"/>
<rect x="316.30" y="26.20" width="1.1" height="313.20" fill="#120a0a" opacity="0.8"/>
<text x="320.70" y="32.20" font-size="5.4" fill="#222">PON3</text>
<text x="320.70" y="38.00" font-size="5.4" fill="#222">B3GNT8</text>
<text x="320.70" y="43.80" font-size="5.4" fill="#222">DCXR</text>
<text x="320.70" y="49.60" font-size="5.4" fill="#222">NEU1</text>
<text x="320.70" y="55.40" font-size="5.4" fill="#222">ACP2</text>
<text x="320.70" y="61.20" font-size="5.4" fill="#222">SLC25A25</text>
<text x="320.70" y="67.00" font-size="5.4" fill="#222">GNS</text>
<text x="320.70" y="72.80" font-size="5.4" fill="#222">MGLL</text>
<text x="320.70" y="78.60" font-size="5.4" fill="#222">UGP2</text>
<text x="320.70" y="84.40" font-size="5.4" fill="#222">DGKG</text>
<text x="320.70" y="90.20" font-size="5.4" fill="#222">PLCB2</text>
<text x="320.70" y="96.00" font-size="5.4" fill="#222">FECH</text>
<text x="320.70" y="101.80" font-size="5.4" fill="#222">CKM</text>
<text x="320.70" y="107.60" font-size="5.4" fill="#222">ALDH3A2</text>
<text x="320.70" y="113.40" font-size="5.4" fill="#222">PMM1</text>
<text x="320.70" y="119.20" font-size="5.4" fill="#222">PDE8A</text>
<text x="320.70" y="125.00" font-size="5.4" fill="#222">ENTPD1</text>
<text x="320.70" y="130.80" font-size="5.4" fill="#222">PDE3A</text>
<text x="320.70" y="136.60" font-size="5.4" fill="#222">HPGD</text>
<text x="320.70" y="142.40" font-size="5.4" fill="#222">ENTPD1</text>
<text x="320.70" y="148.20" font-size="5.4" fill="#222">AMPD3</text>
<text x="320.70" y="154.00" font-size="5.4" fill="#222">CDS2</text>
<text x="320.70" y="159.80" font-size="5.4" fill="#222">DHRS1</text>
<text x="320.70" y="165.60" font-size="5.4" fill="#222">MGLL</text>
<text x="320.70" y="171.40" font-size="5.4" fill="#222">BLVRB</text>
<text x="320.70" y="177.20" font-size="5.4" fill="#222">ALDOC</text>
<text x="320.70" y="183.00" font-size="5.4" fill="#222">FMO5</text>
<text x="320.70" y="188.80" font-size="5.4" fill="#222">PLOD1</text>
<text x="320.70" y="194.60" font-size="5.4" fill="#222">PDE1B</text>
<text x="320.70" y="200.40" font-size="5.4" fill="#222">CYP4F18</text>
<text x="320.70" y="206.20" font-size="5.4" fill="#222">PTDSS2</text>
<text x="320.70" y="212.00" font-size="5.4" fill="#222">PTDSS2</text>
<text x="320.70" y="217.80" font-size="5.4" fill="#222">GPX3</text>
<text x="320.70" y="223.60" font-size="5.4" fill="#222">UGP2</text>
<text x="320.70" y="229.40" font-size="5.4" fill="#222">UGP2</text>
<text x="320.70" y="235.20" font-size="5.4" fill="#222">GDA</text>
<text x="320.70" y="241.00" font-size="5.4" fill="#222">ALDH3B1</text>
<text x="320.70" y="246.80" font-size="5.4" fill="#222">ASPA</text>
<text x="320.70" y="252.60" font-size="5.4" fill="#222">KHK</text>
<text x="320.70" y="258.40" font-size="5.4" fill="#222">ACAD11</text>
<text x="320.70" y="264.20" font-size="5.4" fill="#222">GSR</text>
<text x="320.70" y="270.00" font-size="5.4" fill="#222">SAT1</text>
<text x="320.70" y="275.80" font-size="5.4" fill="#222">INMT</text>
<text x="320.70" y="281.60" font-size="5.4" fill="#222">BGALNT1</text>
<text x="320.70" y="287.40" font-size="5.4" fill="#222">PTDSS2</text>
<text x="320.70" y="293.20" font-size="5.4" fill="#222">GNS</text>
<text x="320.70" y="299.00" font-size="5.4" fill="#222">DGAT1</text>
<text x="320.70" y="304.80" font-size="5.4" fill="#222">DGAT1</text>
<text x="320.70" y="310.60" font-size="5.4" fill="#222">MOGAT2</text>
<text x="320.70" y="316.40" font-size="5.4" fill="#222">CYBA</text>
<text x="320.70" y="322.20" font-size="5.4" fill="#222">ATP6V1E1</text>
<text x="320.70" y="328.00" font-size="5.4" fill="#222">PYGL</text>
<text x="320.70" y="333.80" font-size="5.4" fill="#222">PGD</text>
<text x="320.70" y="339.60" font-size="5.4" fill="#222">HPGD</text>
<defs><linearGradient id="ck" x1="0" x2="1" y1="0" y2="0"><stop offset="0" stop-color="#7cc644"/><stop offset="0.5" stop-color="#0a0a0a"/><stop offset="1" stop-color="#e2262b"/></linearGradient></defs>
<text x="389.70" y="31.30" font-size="5.8" text-anchor="middle" textLength="22.50" lengthAdjust="spacingAndGlyphs" fill="#333">Color Key</text>
<rect x="367.6" y="35.3" width="44.8" height="5.3" fill="url(#ck)" stroke="#111" stroke-width="0.9"/>
<line x1="371.50" y1="40.6" x2="371.50" y2="43.8" stroke="#111" stroke-width="0.9"/>
<text x="371.50" y="51.60" font-size="4.9" text-anchor="middle" fill="#333">-2</text>
<line x1="380.75" y1="40.6" x2="380.75" y2="43.8" stroke="#111" stroke-width="0.9"/>
<text x="380.75" y="51.60" font-size="4.9" text-anchor="middle" fill="#333">-1</text>
<line x1="390.00" y1="40.6" x2="390.00" y2="43.8" stroke="#111" stroke-width="0.9"/>
<text x="390.00" y="51.60" font-size="4.9" text-anchor="middle" fill="#333">0</text>
<line x1="399.25" y1="40.6" x2="399.25" y2="43.8" stroke="#111" stroke-width="0.9"/>
<text x="399.25" y="51.60" font-size="4.9" text-anchor="middle" fill="#333">1</text>
<line x1="408.50" y1="40.6" x2="408.50" y2="43.8" stroke="#111" stroke-width="0.9"/>
<text x="408.50" y="51.60" font-size="4.9" text-anchor="middle" fill="#333">2</text>
<text x="390.00" y="63.30" font-size="8.0" text-anchor="middle" textLength="31.20" lengthAdjust="spacingAndGlyphs" fill="#333">Row Z-score</text>
<line x1="23.6" y1="344.5" x2="139.2" y2="344.5" stroke="#000" stroke-width="1.4"/>
<line x1="143.8" y1="348.6" x2="318.8" y2="348.6" stroke="#000" stroke-width="1.4"/>
<text x="64.00" y="356.20" font-size="9.2" textLength="36.90" lengthAdjust="spacingAndGlyphs">N-GMPs</text>
<text x="214.80" y="360.30" font-size="9.2" textLength="33.90" lengthAdjust="spacingAndGlyphs">L-GMPs</text>
<text x="8.60" y="392.90" font-size="13.3" font-weight="bold" fill="#000">B</text>
<g transform="translate(0,0)" fill="none" stroke="#87a234" stroke-linecap="round" stroke-linejoin="round">
<path d="M22.6 426 C25 426.5 27.5 425 30 423 C33 420.8 36.5 419.8 39.5 420.8 C41 421.4 42.2 422.4 42.8 423.8" stroke-width="1.1"/>
<path d="M22.6 426 C25 426.5 27.5 425 30 423 C33 420.8 36.5 419.8 39.5 420.8" stroke-width="0.5" opacity="0.6" transform="translate(0,0.8)"/>
<path d="M33.0 435.5 C32.2 429.5 36.5 424.2 42.5 424.0 C48.5 424.2 52.8 429.5 52.0 435.5" stroke-width="0.75"/>
<path d="M31.9 438.2 C31.9 435.2 34 433.4 36.4 433.4 C38.6 433.4 40.3 434.9 40.5 437.4" stroke-width="1.0"/>
<path d="M32.4 435.6 C33.2 434.3 34.6 433.6 36.4 433.6 C38.2 433.6 39.5 434.3 40.1 435.6" stroke-width="1.5"/>
<path d="M44.5 437.4 C44.7 434.9 46.4 433.4 48.6 433.4 C51 433.4 53.1 435.2 53.1 438.2" stroke-width="1.0"/>
<path d="M44.9 435.6 C45.5 434.3 46.8 433.6 48.6 433.6 C50.4 433.6 51.8 434.3 52.6 435.6" stroke-width="1.5"/>
<path d="M31.9 438.2 C32.3 440.6 35.2 442.4 37.6 444.0 C39.6 445.3 41.2 447.0 42.5 447.6 C43.8 447.0 45.4 445.3 47.4 444.0 C49.8 442.4 52.7 440.6 53.1 438.2" stroke-width="0.75"/>
<path d="M34.2 445.2 L38.6 446.3 M34.8 448.0 L38.6 446.6 M36.6 449.6 L38.9 447.0 M50.8 445.2 L46.4 446.3 M50.2 448.0 L46.4 446.6 M48.4 449.6 L46.1 447.0" stroke-width="0.45"/>
</g>
<g transform="translate(0,0)" fill="#87a234"><circle cx="39.7" cy="442.8" r="0.85"/><circle cx="45.3" cy="442.8" r="0.85"/><circle cx="42.5" cy="447.2" r="0.7"/></g>
<text x="20.60" y="463.20" font-size="9.2" textLength="41.20" lengthAdjust="spacingAndGlyphs">Actin-GFP</text>
<path d="M-5.30 -2.59 L0.00 -2.59 L0.00 -5.40 L5.30 0.00 L0.00 5.40 L0.00 2.59 L-5.30 2.59 Z" transform="translate(68.60,435.80) rotate(0)" fill="none" stroke="#8aa63a" stroke-width="1.0" stroke-linejoin="miter"/>
<text x="102.00" y="426.30" font-size="9.2" textLength="56.30" lengthAdjust="spacingAndGlyphs">384 well plate</text>
<path d="M80.3 429.4 L80.3 441.8 L127.5 441.8 L127.5 429.4" fill="none" stroke="#c9c9c9" stroke-width="0.8"/>
<path d="M80.80 439.30 L127.00 439.90" stroke="#a9c060" stroke-width="0.9" fill="none"/>
<path d="M82.50 439.20 Q87.00 438.50 89.50 434.20 Q92.00 438.50 95.50 439.80 Q94.00 440.50 92.70 442.10 Q89.50 440.70 86.00 440.30 Q84.00 440.00 82.50 439.20 Z" fill="#d3e294" stroke="#94ad4a" stroke-width="0.6" stroke-linejoin="round"/>
<ellipse cx="89.50" cy="437.80" rx="1.2" ry="1.75" fill="#4d6b1c"/>
<ellipse cx="89.50" cy="437.80" rx="0.5" ry="0.8" fill="#6a8a30"/>
<path d="M97.20 439.20 Q101.70 438.50 104.20 434.20 Q106.70 438.50 110.20 439.80 Q108.70 440.50 107.40 442.10 Q104.20 440.70 100.70 440.30 Q98.70 440.00 97.20 439.20 Z" fill="#d3e294" stroke="#94ad4a" stroke-width="0.6" stroke-linejoin="round"/>
<ellipse cx="104.20" cy="437.80" rx="1.2" ry="1.75" fill="#4d6b1c"/>
<ellipse cx="104.20" cy="437.80" rx="0.5" ry="0.8" fill="#6a8a30"/>
<path d="M111.30 439.20 Q115.80 438.50 118.30 434.20 Q120.80 438.50 124.30 439.80 Q122.80 440.50 121.50 442.10 Q118.30 440.70 114.80 440.30 Q112.80 440.00 111.30 439.20 Z" fill="#d3e294" stroke="#94ad4a" stroke-width="0.6" stroke-linejoin="round"/>
<ellipse cx="118.30" cy="437.80" rx="1.2" ry="1.75" fill="#4d6b1c"/>
<ellipse cx="118.30" cy="437.80" rx="0.5" ry="0.8" fill="#6a8a30"/>
<text x="90.00" y="453.00" font-size="9.2" textLength="28.80" lengthAdjust="spacingAndGlyphs">Stroma</text>
<path d="M-5.10 -2.45 L0.00 -2.45 L0.00 -5.10 L5.10 0.00 L0.00 5.10 L0.00 2.45 L-5.10 2.45 Z" transform="translate(177.00,440.30) rotate(45)" fill="none" stroke="#5aa34a" stroke-width="1.0" stroke-linejoin="miter"/>
<g transform="translate(-0.3,77.5)" fill="none" stroke="#8c3434" stroke-linecap="round" stroke-linejoin="round">
<path d="M22.6 426 C25 426.5 27.5 425 30 423 C33 420.8 36.5 419.8 39.5 420.8 C41 421.4 42.2 422.4 42.8 423.8" stroke-width="1.1"/>
<path d="M22.6 426 C25 426.5 27.5 425 30 423 C33 420.8 36.5 419.8 39.5 420.8" stroke-width="0.5" opacity="0.6" transform="translate(0,0.8)"/>
<path d="M33.0 435.5 C32.2 429.5 36.5 424.2 42.5 424.0 C48.5 424.2 52.8 429.5 52.0 435.5" stroke-width="0.75"/>
<path d="M31.9 438.2 C31.9 435.2 34 433.4 36.4 433.4 C38.6 433.4 40.3 434.9 40.5 437.4" stroke-width="1.0"/>
<path d="M32.4 435.6 C33.2 434.3 34.6 433.6 36.4 433.6 C38.2 433.6 39.5 434.3 40.1 435.6" stroke-width="1.5"/>
<path d="M44.5 437.4 C44.7 434.9 46.4 433.4 48.6 433.4 C51 433.4 53.1 435.2 53.1 438.2" stroke-width="1.0"/>
<path d="M44.9 435.6 C45.5 434.3 46.8 433.6 48.6 433.6 C50.4 433.6 51.8 434.3 52.6 435.6" stroke-width="1.5"/>
<path d="M31.9 438.2 C32.3 440.6 35.2 442.4 37.6 444.0 C39.6 445.3 41.2 447.0 42.5 447.6 C43.8 447.0 45.4 445.3 47.4 444.0 C49.8 442.4 52.7 440.6 53.1 438.2" stroke-width="0.75"/>
<path d="M34.2 445.2 L38.6 446.3 M34.8 448.0 L38.6 446.6 M36.6 449.6 L38.9 447.0 M50.8 445.2 L46.4 446.3 M50.2 448.0 L46.4 446.6 M48.4 449.6 L46.1 447.0" stroke-width="0.45"/>
</g>
<g transform="translate(-0.3,77.5)" fill="#8c3434"><circle cx="39.7" cy="442.8" r="0.85"/><circle cx="45.3" cy="442.8" r="0.85"/><circle cx="42.5" cy="447.2" r="0.7"/></g>
<text x="8.75" y="545.00" font-size="9.2" textLength="50.50" lengthAdjust="spacingAndGlyphs">Actin-DsRed</text>
<path d="M-5.40 -2.59 L0.00 -2.59 L0.00 -5.40 L5.40 0.00 L0.00 5.40 L0.00 2.59 L-5.40 2.59 Z" transform="translate(62.70,512.80) rotate(0)" fill="none" stroke="#8c3434" stroke-width="1.0" stroke-linejoin="miter"/>
<circle cx="81.80" cy="503.20" r="3.3" fill="#efa9a9"/>
<circle cx="82.1" cy="503.5" r="2.25" fill="#0c0505"/>
<circle cx="82.1" cy="503.5" r="1.25" fill="#8a2c2c"/>
<circle cx="91.60" cy="503.40" r="3.3" fill="#efa9a9"/>
<circle cx="91.9" cy="503.7" r="2.25" fill="#0c0505"/>
<circle cx="91.9" cy="503.7" r="1.25" fill="#8a2c2c"/>
<circle cx="82.20" cy="510.60" r="3.3" fill="#efa9a9"/>
<circle cx="82.5" cy="510.9" r="2.25" fill="#0c0505"/>
<circle cx="82.5" cy="510.9" r="1.25" fill="#8a2c2c"/>
<circle cx="90.20" cy="511.50" r="3.3" fill="#efa9a9"/>
<circle cx="90.5" cy="511.8" r="2.25" fill="#0c0505"/>
<circle cx="90.5" cy="511.8" r="1.25" fill="#8a2c2c"/>
<circle cx="98.20" cy="509.60" r="3.3" fill="#efa9a9"/>
<circle cx="98.5" cy="509.9" r="2.25" fill="#0c0505"/>
<circle cx="98.5" cy="509.9" r="1.25" fill="#8a2c2c"/>
<circle cx="105.60" cy="514.20" r="3.3" fill="#efa9a9"/>
<circle cx="105.9" cy="514.5" r="2.25" fill="#0c0505"/>
<circle cx="105.9" cy="514.5" r="1.25" fill="#8a2c2c"/>
<circle cx="84.00" cy="518.40" r="3.3" fill="#efa9a9"/>
<circle cx="84.3" cy="518.7" r="2.25" fill="#0c0505"/>
<circle cx="84.3" cy="518.7" r="1.25" fill="#8a2c2c"/>
<circle cx="97.30" cy="517.60" r="3.3" fill="#efa9a9"/>
<circle cx="97.6" cy="517.9" r="2.25" fill="#0c0505"/>
<circle cx="97.6" cy="517.9" r="1.25" fill="#8a2c2c"/>
<circle cx="91.60" cy="521.60" r="3.3" fill="#efa9a9"/>
<circle cx="91.9" cy="521.9" r="2.25" fill="#0c0505"/>
<circle cx="91.9" cy="521.9" r="1.25" fill="#8a2c2c"/>
<circle cx="100.40" cy="525.40" r="3.3" fill="#efa9a9"/>
<circle cx="100.7" cy="525.7" r="2.25" fill="#0c0505"/>
<circle cx="100.7" cy="525.7" r="1.25" fill="#8a2c2c"/>
<path d="M-5.60 -2.59 L0.00 -2.59 L0.00 -5.40 L5.60 0.00 L0.00 5.40 L0.00 2.59 L-5.60 2.59 Z" transform="translate(119.30,512.50) rotate(0)" fill="none" stroke="#8c3434" stroke-width="1.0" stroke-linejoin="miter"/>
<text x="73.00" y="545.00" font-size="9.2" textLength="34.50" lengthAdjust="spacingAndGlyphs">N-GMPs</text>
<text x="90.10" y="555.50" font-size="9.2" text-anchor="middle">or</text>
<text x="74.25" y="567.00" font-size="9.2" textLength="32.00" lengthAdjust="spacingAndGlyphs">L-GMPs</text>
<text x="103.00" y="476.30" font-size="9.2" textLength="63.00" lengthAdjust="spacingAndGlyphs">Arrayed shRNA</text>
<text x="117.00" y="487.20" font-size="9.2" textLength="35.00" lengthAdjust="spacingAndGlyphs">infection</text>
<line x1="142.3" y1="493.3" x2="147.6" y2="498.0" stroke="#000" stroke-width="1.1"/>
<path d="M149.6 499.6 L144.9 498.4 L148.5 495.0 Z" fill="#000"/>
<circle cx="158.3" cy="487.7" r="1.45" fill="#c8bb8a" stroke="#555" stroke-width="0.35"/>
<circle cx="165.2" cy="485.0" r="1.45" fill="#1f2a8a" stroke="#555" stroke-width="0.35"/>
<circle cx="174.7" cy="485.1" r="1.45" fill="#c8bb8a" stroke="#555" stroke-width="0.35"/>
<circle cx="162.3" cy="492.0" r="1.45" fill="#5a1010" stroke="#555" stroke-width="0.35"/>
<circle cx="169.8" cy="489.5" r="1.45" fill="#f2e21a" stroke="#555" stroke-width="0.35"/>
<circle cx="175.8" cy="491.6" r="1.45" fill="#c8bb8a" stroke="#555" stroke-width="0.35"/>
<circle cx="162.6" cy="497.8" r="1.45" fill="#e8d820" stroke="#555" stroke-width="0.35"/>
<circle cx="170.1" cy="495.5" r="1.45" fill="#8aa035" stroke="#555" stroke-width="0.35"/>
<circle cx="176.8" cy="497.9" r="1.45" fill="#5a1010" stroke="#555" stroke-width="0.35"/>
<defs><pattern id="grid" width="1.6" height="1.6" patternUnits="userSpaceOnUse"><rect width="1.6" height="1.6" fill="#f7f7f7"/><circle cx="0.8" cy="0.8" r="0.5" fill="#e3e3e3"/></pattern></defs>
<rect x="139.6" y="503.3" width="40.3" height="24.9" fill="url(#grid)" stroke="#cfcfcf" stroke-width="0.8"/>
<circle cx="142.5" cy="505.30" r="0.95" fill="#a01818"/>
<circle cx="142.5" cy="508.23" r="0.95" fill="#6a9a2a"/>
<circle cx="142.5" cy="511.16" r="0.95" fill="#2a8ab0"/>
<circle cx="142.5" cy="514.09" r="0.95" fill="#e06a10"/>
<circle cx="142.5" cy="517.02" r="0.95" fill="#2a5aa0"/>
<circle cx="142.5" cy="519.95" r="0.95" fill="#888888"/>
<circle cx="142.5" cy="522.88" r="0.95" fill="#c8bb8a"/>
<circle cx="142.5" cy="525.81" r="0.95" fill="#5a3a8a"/>
<path d="M-5.40 -2.54 L0.00 -2.54 L0.00 -5.30 L5.40 0.00 L0.00 5.30 L0.00 2.54 L-5.40 2.54 Z" transform="translate(196.70,499.40) rotate(-45)" fill="none" stroke="#8c3a3a" stroke-width="1.0" stroke-linejoin="miter"/>
<path d="M192.2 461.2 L192.2 474.2 L238.9 474.2 L238.9 461.2" fill="none" stroke="#c9c9c9" stroke-width="0.8"/>
<path d="M192.70 471.10 L238.40 471.70" stroke="#a9c060" stroke-width="0.9" fill="none"/>
<path d="M194.50 471.00 Q199.00 470.30 201.50 465.00 Q204.00 470.30 207.50 471.60 Q206.00 472.30 204.70 473.90 Q201.50 472.50 198.00 472.10 Q196.00 471.80 194.50 471.00 Z" fill="#d3e294" stroke="#94ad4a" stroke-width="0.6" stroke-linejoin="round"/>
<ellipse cx="201.50" cy="468.60" rx="1.2" ry="1.75" fill="#4d6b1c"/>
<ellipse cx="201.50" cy="468.60" rx="0.5" ry="0.8" fill="#6a8a30"/>
<path d="M209.00 471.00 Q213.50 470.30 216.00 465.00 Q218.50 470.30 222.00 471.60 Q220.50 472.30 219.20 473.90 Q216.00 472.50 212.50 472.10 Q210.50 471.80 209.00 471.00 Z" fill="#d3e294" stroke="#94ad4a" stroke-width="0.6" stroke-linejoin="round"/>
<ellipse cx="216.00" cy="468.60" rx="1.2" ry="1.75" fill="#4d6b1c"/>
<ellipse cx="216.00" cy="468.60" rx="0.5" ry="0.8" fill="#6a8a30"/>
<path d="M223.00 471.00 Q227.50 470.30 230.00 465.00 Q232.50 470.30 236.00 471.60 Q234.50 472.30 233.20 473.90 Q230.00 472.50 226.50 472.10 Q224.50 471.80 223.00 471.00 Z" fill="#d3e294" stroke="#94ad4a" stroke-width="0.6" stroke-linejoin="round"/>
<ellipse cx="230.00" cy="468.60" rx="1.2" ry="1.75" fill="#4d6b1c"/>
<ellipse cx="230.00" cy="468.60" rx="0.5" ry="0.8" fill="#6a8a30"/>
<circle cx="195.8" cy="469.0" r="3.2" fill="#dba8a8" stroke="#c88a8a" stroke-width="0.6"/>
<circle cx="208.2" cy="466.4" r="3.2" fill="#dba8a8" stroke="#c88a8a" stroke-width="0.6"/>
<circle cx="208.2" cy="466.4" r="1.5" fill="#f5e82a"/>
<circle cx="222.8" cy="466.4" r="3.2" fill="#dba8a8" stroke="#c88a8a" stroke-width="0.6"/>
<circle cx="222.8" cy="466.4" r="1.5" fill="#cfe0a8"/>
<circle cx="234.7" cy="468.0" r="3.2" fill="#dba8a8" stroke="#c88a8a" stroke-width="0.6"/>
<circle cx="234.7" cy="468.0" r="1.5" fill="#2a4aa0"/>
<path d="M194.3 470.8 Q197.3 473.4 199.8 470.8 Z" fill="#8a1010"/>
<text x="194.70" y="483.80" font-size="9.2" textLength="42.70" lengthAdjust="spacingAndGlyphs">Co-culture</text>
<path d="M-5.30 -2.59 L0.00 -2.59 L0.00 -5.40 L5.30 0.00 L0.00 5.40 L0.00 2.59 L-5.30 2.59 Z" transform="translate(255.50,469.30) rotate(0)" fill="none" stroke="#5b84c8" stroke-width="1.0" stroke-linejoin="miter"/>
<path d="M295.6 419 L295.6 516.4 L394 516.4" fill="none" stroke="#111" stroke-width="1.2"/>
<line x1="291.5" y1="443.6" x2="295.6" y2="443.6" stroke="#111" stroke-width="1.0"/>
<line x1="291.5" y1="468.6" x2="295.6" y2="468.6" stroke="#111" stroke-width="1.0"/>
<line x1="291.5" y1="494.3" x2="295.6" y2="494.3" stroke="#111" stroke-width="1.0"/>
<line x1="319.4" y1="516.4" x2="319.4" y2="519.8" stroke="#111" stroke-width="1.0"/>
<line x1="345.2" y1="516.4" x2="345.2" y2="519.8" stroke="#111" stroke-width="1.0"/>
<line x1="370.5" y1="516.4" x2="370.5" y2="519.8" stroke="#111" stroke-width="1.0"/>
<rect x="300.3" y="414.8" width="42.0" height="65.9" fill="none" stroke="#d63a3a" stroke-width="1.0"/>
<text x="344.80" y="407.70" font-size="8.8" textLength="41.90" lengthAdjust="spacingAndGlyphs">Candidate</text>
<text x="344.80" y="418.70" font-size="8.8" textLength="31.50" lengthAdjust="spacingAndGlyphs">shRNAs</text>
<path d="M309.50 426.70 L312.50 432.00 L306.50 432.00 Z" fill="#d8e8f2" stroke="#5f97b8" stroke-width="0.85" stroke-linejoin="round"/>
<path d="M320.90 425.90 L323.90 431.20 L317.90 431.20 Z" fill="#d8e8f2" stroke="#5f97b8" stroke-width="0.85" stroke-linejoin="round"/>
<path d="M334.70 428.30 L337.70 433.60 L331.70 433.60 Z" fill="#d8e8f2" stroke="#5f97b8" stroke-width="0.85" stroke-linejoin="round"/>
<path d="M307.70 434.80 L310.70 440.10 L304.70 440.10 Z" fill="#d8e8f2" stroke="#5f97b8" stroke-width="0.85" stroke-linejoin="round"/>
<path d="M316.70 433.00 L319.70 438.30 L313.70 438.30 Z" fill="#d8e8f2" stroke="#5f97b8" stroke-width="0.85" stroke-linejoin="round"/>
<path d="M327.50 431.20 L330.50 436.50 L324.50 436.50 Z" fill="#d8e8f2" stroke="#5f97b8" stroke-width="0.85" stroke-linejoin="round"/>
<path d="M334.10 437.80 L337.10 443.10 L331.10 443.10 Z" fill="#d8e8f2" stroke="#5f97b8" stroke-width="0.85" stroke-linejoin="round"/>
<path d="M317.20 440.90 L320.20 446.20 L314.20 446.20 Z" fill="#d8e8f2" stroke="#5f97b8" stroke-width="0.85" stroke-linejoin="round"/>
<path d="M322.30 439.40 L325.30 444.70 L319.30 444.70 Z" fill="#d8e8f2" stroke="#5f97b8" stroke-width="0.85" stroke-linejoin="round"/>
<path d="M324.60 438.10 L327.60 443.40 L321.60 443.40 Z" fill="#d8e8f2" stroke="#5f97b8" stroke-width="0.85" stroke-linejoin="round"/>
<path d="M307.70 449.90 L310.70 455.20 L304.70 455.20 Z" fill="#d8e8f2" stroke="#5f97b8" stroke-width="0.85" stroke-linejoin="round"/>
<path d="M313.70 447.80 L316.70 453.10 L310.70 453.10 Z" fill="#d8e8f2" stroke="#5f97b8" stroke-width="0.85" stroke-linejoin="round"/>
<path d="M321.40 448.30 L324.40 453.60 L318.40 453.60 Z" fill="#d8e8f2" stroke="#5f97b8" stroke-width="0.85" stroke-linejoin="round"/>
<path d="M328.60 445.70 L331.60 451.00 L325.60 451.00 Z" fill="#d8e8f2" stroke="#5f97b8" stroke-width="0.85" stroke-linejoin="round"/>
<path d="M312.80 456.00 L315.80 461.30 L309.80 461.30 Z" fill="#d8e8f2" stroke="#5f97b8" stroke-width="0.85" stroke-linejoin="round"/>
<path d="M320.40 453.10 L323.40 458.40 L317.40 458.40 Z" fill="#d8e8f2" stroke="#5f97b8" stroke-width="0.85" stroke-linejoin="round"/>
<path d="M328.10 455.20 L331.10 460.50 L325.10 460.50 Z" fill="#d8e8f2" stroke="#5f97b8" stroke-width="0.85" stroke-linejoin="round"/>
<path d="M336.50 454.20 L339.50 459.50 L333.50 459.50 Z" fill="#d8e8f2" stroke="#5f97b8" stroke-width="0.85" stroke-linejoin="round"/>
<path d="M320.40 461.30 L323.40 466.60 L317.40 466.60 Z" fill="#d8e8f2" stroke="#5f97b8" stroke-width="0.85" stroke-linejoin="round"/>
<path d="M307.40 464.70 L310.40 470.00 L304.40 470.00 Z" fill="#d8e8f2" stroke="#5f97b8" stroke-width="0.85" stroke-linejoin="round"/>
<path d="M368.00 432.50 L371.00 437.80 L365.00 437.80 Z" fill="#d2dca0" stroke="#8c9f3c" stroke-width="0.85" stroke-linejoin="round"/>
<path d="M379.50 434.40 L382.50 439.70 L376.50 439.70 Z" fill="#d2dca0" stroke="#8c9f3c" stroke-width="0.85" stroke-linejoin="round"/>
<path d="M361.30 439.70 L364.30 445.00 L358.30 445.00 Z" fill="#d2dca0" stroke="#8c9f3c" stroke-width="0.85" stroke-linejoin="round"/>
<path d="M372.40 438.40 L375.40 443.70 L369.40 443.70 Z" fill="#d2dca0" stroke="#8c9f3c" stroke-width="0.85" stroke-linejoin="round"/>
<path d="M386.20 440.60 L389.20 445.90 L383.20 445.90 Z" fill="#d2dca0" stroke="#8c9f3c" stroke-width="0.85" stroke-linejoin="round"/>
<path d="M368.10 445.50 L371.10 450.80 L365.10 450.80 Z" fill="#d2dca0" stroke="#8c9f3c" stroke-width="0.85" stroke-linejoin="round"/>
<path d="M379.00 443.40 L382.00 448.70 L376.00 448.70 Z" fill="#d2dca0" stroke="#8c9f3c" stroke-width="0.85" stroke-linejoin="round"/>
<path d="M360.40 448.30 L363.40 453.60 L357.40 453.60 Z" fill="#d2dca0" stroke="#8c9f3c" stroke-width="0.85" stroke-linejoin="round"/>
<path d="M375.50 450.50 L378.50 455.80 L372.50 455.80 Z" fill="#d2dca0" stroke="#8c9f3c" stroke-width="0.85" stroke-linejoin="round"/>
<path d="M385.60 450.20 L388.60 455.50 L382.60 455.50 Z" fill="#d2dca0" stroke="#8c9f3c" stroke-width="0.85" stroke-linejoin="round"/>
<path d="M368.60 453.20 L371.60 458.50 L365.60 458.50 Z" fill="#d2dca0" stroke="#8c9f3c" stroke-width="0.85" stroke-linejoin="round"/>
<path d="M312.80 495.20 L315.80 500.50 L309.80 500.50 Z" fill="#c4611c" stroke="#b8561a" stroke-width="0.85" stroke-linejoin="round"/>
<path d="M324.30 496.20 L327.30 501.50 L321.30 501.50 Z" fill="#c4611c" stroke="#b8561a" stroke-width="0.85" stroke-linejoin="round"/>
<path d="M306.10 501.80 L309.10 507.10 L303.10 507.10 Z" fill="#c4611c" stroke="#b8561a" stroke-width="0.85" stroke-linejoin="round"/>
<path d="M317.20 500.80 L320.20 506.10 L314.20 506.10 Z" fill="#c4611c" stroke="#b8561a" stroke-width="0.85" stroke-linejoin="round"/>
<path d="M331.00 502.90 L334.00 508.20 L328.00 508.20 Z" fill="#c4611c" stroke="#b8561a" stroke-width="0.85" stroke-linejoin="round"/>
<path d="M313.60 507.30 L316.60 512.60 L310.60 512.60 Z" fill="#c4611c" stroke="#b8561a" stroke-width="0.85" stroke-linejoin="round"/>
<path d="M323.70 506.30 L326.70 511.60 L320.70 511.60 Z" fill="#c4611c" stroke="#b8561a" stroke-width="0.85" stroke-linejoin="round"/>
<path d="M364.70 496.80 L367.70 502.10 L361.70 502.10 Z" fill="#c0cbec" stroke="#6e82c4" stroke-width="0.85" stroke-linejoin="round"/>
<path d="M380.80 498.20 L383.80 503.50 L377.80 503.50 Z" fill="#c0cbec" stroke="#6e82c4" stroke-width="0.85" stroke-linejoin="round"/>
<path d="M359.60 502.20 L362.60 507.50 L356.60 507.50 Z" fill="#c0cbec" stroke="#6e82c4" stroke-width="0.85" stroke-linejoin="round"/>
<path d="M371.30 501.20 L374.30 506.50 L368.30 506.50 Z" fill="#c0cbec" stroke="#6e82c4" stroke-width="0.85" stroke-linejoin="round"/>
<path d="M349.50 504.90 L352.50 510.20 L346.50 510.20 Z" fill="#c0cbec" stroke="#6e82c4" stroke-width="0.85" stroke-linejoin="round"/>
<path d="M386.30 504.30 L389.30 509.60 L383.30 509.60 Z" fill="#c0cbec" stroke="#6e82c4" stroke-width="0.85" stroke-linejoin="round"/>
<path d="M366.10 507.30 L369.10 512.60 L363.10 512.60 Z" fill="#c0cbec" stroke="#6e82c4" stroke-width="0.85" stroke-linejoin="round"/>
<path d="M376.80 506.30 L379.80 511.60 L373.80 511.60 Z" fill="#c0cbec" stroke="#6e82c4" stroke-width="0.85" stroke-linejoin="round"/>
<path d="M356.60 509.70 L359.60 515.00 L353.60 515.00 Z" fill="#c0cbec" stroke="#6e82c4" stroke-width="0.85" stroke-linejoin="round"/>
<text x="275.30" y="467.50" font-size="10.2" text-anchor="middle" textLength="69.40" lengthAdjust="spacingAndGlyphs" fill="#333" transform="rotate(-90 275.30 467.50)">Relative # of cells/well</text>
<text x="286.00" y="467.50" font-size="9.6" text-anchor="middle" textLength="25.60" lengthAdjust="spacingAndGlyphs" fill="#333" transform="rotate(-90 286.00 467.50)">N-GMPs</text>
<text x="310.00" y="532.00" font-size="9.6" textLength="69.30" lengthAdjust="spacingAndGlyphs" fill="#333">Relative # of cells/well</text>
<text x="332.90" y="542.70" font-size="9.6" textLength="23.70" lengthAdjust="spacingAndGlyphs" fill="#333">L-GMPs</text>
<text x="8.50" y="599.20" font-size="14.3" font-weight="bold" fill="#000">C</text>
<rect x="42.6" y="606.2" width="193.8" height="196.5" fill="#e8e8e8" stroke="#000" stroke-width="1.2"/>
<line x1="51.7" y1="606.4" x2="51.7" y2="802.6" stroke="#111" stroke-width="1.6"/>
<line x1="42.8" y1="651.0" x2="236.4" y2="651.0" stroke="#111" stroke-width="1.3"/>
<line x1="39.2" y1="615.15" x2="42.6" y2="615.15" stroke="#000" stroke-width="1.2"/>
<text x="35.50" y="617.95" font-size="9.4" text-anchor="end" fill="#222">1</text>
<line x1="39.2" y1="651.00" x2="42.6" y2="651.00" stroke="#000" stroke-width="1.2"/>
<text x="35.50" y="653.80" font-size="9.4" text-anchor="end" fill="#222">0</text>
<line x1="39.2" y1="686.85" x2="42.6" y2="686.85" stroke="#000" stroke-width="1.2"/>
<text x="35.50" y="689.65" font-size="9.4" text-anchor="end" fill="#222">−1</text>
<line x1="39.2" y1="722.70" x2="42.6" y2="722.70" stroke="#000" stroke-width="1.2"/>
<text x="35.50" y="725.50" font-size="9.4" text-anchor="end" fill="#222">−2</text>
<line x1="39.2" y1="758.55" x2="42.6" y2="758.55" stroke="#000" stroke-width="1.2"/>
<text x="35.50" y="761.35" font-size="9.4" text-anchor="end" fill="#222">−3</text>
<line x1="39.2" y1="794.40" x2="42.6" y2="794.40" stroke="#000" stroke-width="1.2"/>
<text x="35.50" y="797.20" font-size="9.4" text-anchor="end" fill="#222">−4</text>
<line x1="51.60" y1="802.7" x2="51.60" y2="805.7" stroke="#000" stroke-width="1.2"/>
<text x="51.60" y="818.60" font-size="10.0" text-anchor="middle" textLength="5.40" lengthAdjust="spacingAndGlyphs" fill="#222">0</text>
<line x1="89.33" y1="802.7" x2="89.33" y2="805.7" stroke="#000" stroke-width="1.2"/>
<text x="89.33" y="818.60" font-size="10.0" text-anchor="middle" textLength="15.90" lengthAdjust="spacingAndGlyphs" fill="#222">500</text>
<line x1="127.06" y1="802.7" x2="127.06" y2="805.7" stroke="#000" stroke-width="1.2"/>
<text x="127.06" y="818.60" font-size="10.0" text-anchor="middle" textLength="20.80" lengthAdjust="spacingAndGlyphs" fill="#222">1000</text>
<line x1="164.79" y1="802.7" x2="164.79" y2="805.7" stroke="#000" stroke-width="1.2"/>
<text x="164.79" y="818.60" font-size="10.0" text-anchor="middle" textLength="21.20" lengthAdjust="spacingAndGlyphs" fill="#222">1500</text>
<line x1="202.52" y1="802.7" x2="202.52" y2="805.7" stroke="#000" stroke-width="1.2"/>
<text x="202.52" y="818.60" font-size="10.0" text-anchor="middle" textLength="20.80" lengthAdjust="spacingAndGlyphs" fill="#222">2000</text>
<text x="18.70" y="704.50" font-size="11.9" text-anchor="middle" textLength="25.00" lengthAdjust="spacingAndGlyphs" fill="#222" transform="rotate(-90 18.70 704.50)">Log10</text>
<text x="128.10" y="834.60" font-size="11.5" textLength="23.10" lengthAdjust="spacingAndGlyphs" fill="#222">Order</text>
<path d="M53.30 752.00 L55.20 745.30 L59.00 733.00 L62.80 721.60 L65.60 712.10 L67.50 703.60 L68.40 696.50 L69.40 691.50 L71.00 688.00 L74.20 683.60 L78.90 679.00 L85.50 675.10 L93.10 670.90 L100.30 667.60 L113.50 663.50 L129.60 660.20 L148.50 656.70 L167.30 653.60 L180.80 651.90 L194.20 650.30 L207.70 648.40 L215.80 646.40 L220.00 644.60 L222.50 643.20 L224.80 641.20 L226.00 639.20 L227.00 637.00 L227.40 635.20" fill="none" stroke="#000" stroke-width="2.0" stroke-linejoin="round" stroke-linecap="round"/>
<path d="M52.0 777 L52.3 756 L53.3 752" fill="none" stroke="#333" stroke-width="0.9" stroke-dasharray="0.7 0.7"/>
<line x1="227.6" y1="635" x2="227.6" y2="630.5" stroke="#666" stroke-width="0.8" stroke-dasharray="0.6 0.8"/>
<circle cx="227.9" cy="626.3" r="0.55" fill="#888"/>
<circle cx="227.9" cy="666.4" r="0.6" fill="#888"/>
<line x1="98.4" y1="673.3" x2="98.4" y2="681.7" stroke="#b5123b" stroke-width="1.0"/>
<path d="M98.4 671.3 L99.9 674.5 L96.9 674.5 Z" fill="#b5123b"/>
<line x1="102.0" y1="673.3" x2="102.0" y2="681.7" stroke="#b5123b" stroke-width="1.0"/>
<path d="M102.0 671.3 L103.5 674.5 L100.5 674.5 Z" fill="#b5123b"/>
<line x1="130.3" y1="665.8" x2="130.3" y2="674.2" stroke="#b5123b" stroke-width="1.0"/>
<path d="M130.3 663.8 L131.8 667.0 L128.8 667.0 Z" fill="#b5123b"/>
<circle cx="98.6" cy="668.5" r="0.9" fill="#b5123b"/>
<circle cx="100.6" cy="667.9" r="0.9" fill="#b5123b"/>
<circle cx="130.2" cy="660.4" r="0.9" fill="#b5123b"/>
<circle cx="147.3" cy="770.8" r="1.6" fill="#b5123b"/>
<text x="153.80" y="774.30" font-size="9.0" textLength="73.20" lengthAdjust="spacingAndGlyphs" fill="#222">Aldh3a2 targeting</text>
<text x="153.80" y="784.20" font-size="9.0" textLength="31.60" lengthAdjust="spacingAndGlyphs" fill="#222">shRNAs</text>
<text x="255.60" y="599.00" font-size="13.3" font-weight="bold" fill="#000">D</text>
<line x1="300.6" y1="608.7" x2="300.6" y2="803.0" stroke="#111" stroke-width="1.2"/>
<line x1="300.0" y1="803.0" x2="458.5" y2="803.0" stroke="#111" stroke-width="1.2"/>
<line x1="296.8" y1="803.00" x2="300.6" y2="803.00" stroke="#000" stroke-width="1.2"/>
<text x="293.50" y="805.70" font-size="9.3" text-anchor="end" fill="#222">0</text>
<line x1="296.8" y1="755.00" x2="300.6" y2="755.00" stroke="#000" stroke-width="1.2"/>
<text x="293.50" y="757.70" font-size="9.3" text-anchor="end" fill="#222">2000</text>
<line x1="296.8" y1="707.00" x2="300.6" y2="707.00" stroke="#000" stroke-width="1.2"/>
<text x="293.50" y="709.70" font-size="9.3" text-anchor="end" fill="#222">4000</text>
<line x1="296.8" y1="659.00" x2="300.6" y2="659.00" stroke="#000" stroke-width="1.2"/>
<text x="293.50" y="661.70" font-size="9.3" text-anchor="end" fill="#222">6000</text>
<line x1="296.8" y1="611.00" x2="300.6" y2="611.00" stroke="#000" stroke-width="1.2"/>
<text x="293.50" y="613.70" font-size="9.3" text-anchor="end" fill="#222">8000</text>
<line x1="325.0" y1="803" x2="325.0" y2="806.6" stroke="#000" stroke-width="1.2"/>
<line x1="361.3" y1="803" x2="361.3" y2="806.6" stroke="#000" stroke-width="1.2"/>
<line x1="397.8" y1="803" x2="397.8" y2="806.6" stroke="#000" stroke-width="1.2"/>
<line x1="434.1" y1="803" x2="434.1" y2="806.6" stroke="#000" stroke-width="1.2"/>
<text x="265.30" y="705.80" font-size="11.0" text-anchor="middle" textLength="99.60" lengthAdjust="spacingAndGlyphs" fill="#222" transform="rotate(-90 265.30 705.80)">Number of cells per well</text>
<line x1="305.8" y1="773.7" x2="449.4" y2="773.7" stroke="#333" stroke-width="2.0" stroke-dasharray="8.7 8.15"/>
<text x="453.90" y="776.20" font-size="9.3" textLength="57.40" lengthAdjust="spacingAndGlyphs" fill="#222">Mean - 1.5 SD</text>
<line x1="324.9" y1="688.5" x2="324.9" y2="763.8" stroke="#845d96" stroke-width="1.3"/>
<line x1="319.1" y1="688.5" x2="330.7" y2="688.5" stroke="#845d96" stroke-width="1.3"/>
<line x1="319.1" y1="763.8" x2="330.7" y2="763.8" stroke="#a78ab5" stroke-width="1.3"/>
<line x1="312.9" y1="726.0" x2="336.8" y2="726.0" stroke="#000" stroke-width="1.4"/>
<circle cx="324.9" cy="662.9" r="1.9" fill="#4b1c63"/>
<circle cx="324.9" cy="708.1" r="1.9" fill="#4b1c63"/>
<circle cx="324.9" cy="720.6" r="1.9" fill="#4b1c63"/>
<circle cx="324.9" cy="743.8" r="1.9" fill="#4b1c63"/>
<circle cx="324.9" cy="754.6" r="1.9" fill="#4b1c63"/>
<circle cx="324.9" cy="767.1" r="1.9" fill="#4b1c63"/>
<line x1="349.3" y1="791.2" x2="373.5" y2="791.2" stroke="#000" stroke-width="1.4"/>
<path d="M356 788.8 L367 788.8 M356 793.5 L367 793.5 M361.3 788.8 L361.3 793.5" stroke="#b5123b" stroke-width="1.0" fill="none" opacity="0.75"/>
<rect x="356.8" y="791.9" width="2.5" height="2.5" fill="#b5123b"/>
<rect x="363.2" y="787.8" width="2.5" height="2.5" fill="#b5123b"/>
<rect x="359.5" y="790.0" width="2.3" height="2.3" fill="#b5123b"/>
<line x1="386.0" y1="791.7" x2="409.9" y2="791.7" stroke="#000" stroke-width="1.4"/>
<path d="M391.8 788.1 L403.5 788.1 M391.8 795.5 L403.5 795.5 M397.7 788.1 L397.7 795.5" stroke="#2a4f9a" stroke-width="1.0" fill="none"/>
<path d="M395 792.8 L396.7 795.6 L393.3 795.6 Z" fill="#2a4f9a"/>
<path d="M401.5 788.8 L403.2 791.6 L399.8 791.6 Z" fill="#2a4f9a"/>
<line x1="422.1" y1="790.3" x2="446.0" y2="790.3" stroke="#000" stroke-width="1.4"/>
<path d="M428.2 784.2 L440.2 784.2 M428.2 796.9 L440.2 796.9 M434.1 784.2 L434.1 796.9" stroke="#6ab545" stroke-width="1.1" fill="none"/>
<path d="M434.1 796.6 L435.9 793.6 L432.3 793.6 Z" fill="#6ab545"/>
<path d="M434.1 788.0 L435.7 785.4 L432.5 785.4 Z" fill="#6ab545"/>
<circle cx="436.5" cy="633.3" r="1.7" fill="#4b1c63"/>
<rect x="434.8" y="646.1" width="3.4" height="3.4" fill="#b5123b"/>
<path d="M436.5 661.0 L438.3 664.4 L434.7 664.4 Z" fill="#2a4f9a"/>
<path d="M436.5 678.4 L438.3 675.0 L434.7 675.0 Z" fill="#6ab545"/>
<text x="442.70" y="636.50" font-size="9.0" textLength="26.04" lengthAdjust="spacingAndGlyphs" fill="#222">Ctrl-sh</text>
<text x="442.70" y="651.00" font-size="9.0" textLength="52.60" lengthAdjust="spacingAndGlyphs" fill="#222">Aldh3a2-sh-1</text>
<text x="442.70" y="666.10" font-size="9.0" textLength="52.60" lengthAdjust="spacingAndGlyphs" fill="#222">Aldh3a2-sh-2</text>
<text x="442.70" y="679.80" font-size="9.0" textLength="52.60" lengthAdjust="spacingAndGlyphs" fill="#222">Aldh3a2-sh-3</text>
<rect x="0" y="0" width="1.25" height="843" fill="#000"/>
<rect x="0" y="0" width="520" height="1.25" fill="#000"/>
<rect x="518.6" y="0" width="1.4" height="843" fill="#000"/>
<rect x="0" y="841.2" width="520" height="1.8" fill="#000"/>
</svg>
</body></html>
